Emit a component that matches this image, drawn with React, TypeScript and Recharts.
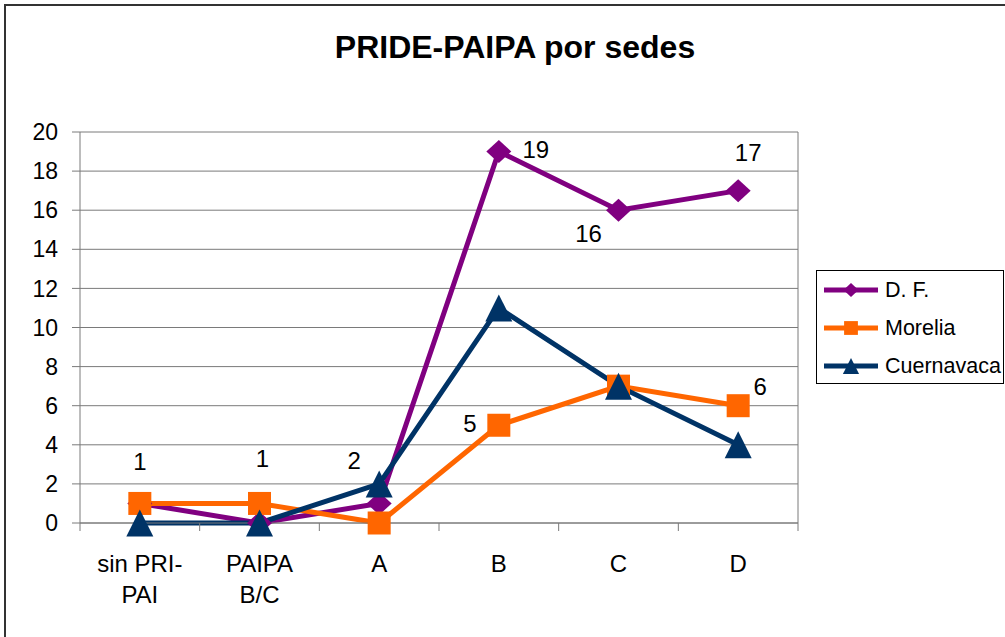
import React from "react";
import { LineChart, Line, XAxis, YAxis, CartesianGrid } from "recharts";

const categories = ["sin PRI-PAI", "PAIPA B/C", "A", "B", "C", "D"];
const categoryLines = [["sin PRI-", "PAI"], ["PAIPA", "B/C"], ["A"], ["B"], ["C"], ["D"]];
const dfValues = [1, 0, 1, 19, 16, 17];
const moreliaValues = [1, 1, 0, 5, 7, 6];
const cuernavacaValues = [0, 0, 2, 11, 7, 4];
const yTicks = [0, 2, 4, 6, 8, 10, 12, 14, 16, 18, 20];
const seriesNames = ["D. F.", "Morelia", "Cuernavaca"];
const seriesKeys = ["df", "morelia", "cuernavaca"];
const chartTitle = "PRIDE-PAIPA por sedes";

// which points carry a data label
const dfLabelShown = [false, false, false, true, true, true];
const moreliaLabelShown = [true, true, false, true, false, true];
const cuernavacaLabelShown = [false, false, true, false, false, false];

const data = categories.map((c, i) => ({
  cat: c,
  df: dfValues[i],
  morelia: moreliaValues[i],
  cuernavaca: cuernavacaValues[i],
}));

const FONT = "'Liberation Sans', Arial, Helvetica, sans-serif";
const COLORS: Record<string, string> = { df: "#800080", morelia: "#FF6600", cuernavaca: "#003366" };
const GRID = "#7a7a7a";

// label offsets (styling, relative to point)
const labelOffsets: Record<string, Record<number, [number, number]>> = {
  df: { 3: [37, -2], 4: [-30, 23], 5: [10, -38] },
  morelia: { 0: [0, -42], 1: [3, -45], 3: [-29, -2], 5: [22, -19] },
  cuernavaca: { 2: [-25, -23] },
};
const labelShown: Record<string, boolean[]> = {
  df: dfLabelShown,
  morelia: moreliaLabelShown,
  cuernavaca: cuernavacaLabelShown,
};

function Marker({ kind, cx, cy, color }: { kind: string; cx: number; cy: number; color: string }) {
  if (kind === "df") {
    const w = 12.5, h = 11.5;
    return <polygon points={`${cx},${cy - h} ${cx + w},${cy} ${cx},${cy + h} ${cx - w},${cy}`} fill={color} />;
  }
  if (kind === "morelia") {
    const s = 11.5;
    return <rect x={cx - s} y={cy - s} width={2 * s} height={2 * s} fill={color} />;
  }
  const w = 13.5, h = 13.5;
  return <polygon points={`${cx},${cy - h} ${cx + w},${cy + h} ${cx - w},${cy + h}`} fill={color} />;
}

function makeDot(kind: string) {
  return (props: any) => {
    const { cx, cy, index, payload } = props;
    const color = COLORS[kind];
    const shown = labelShown[kind][index];
    const off = labelOffsets[kind][index] || [0, 0];
    return (
      <g key={`dot-${kind}-${index}`}>
        <Marker kind={kind} cx={cx} cy={cy} color={color} />
        {shown ? (
          <text
            x={cx + off[0]}
            y={cy + off[1]}
            textAnchor="middle"
            dominantBaseline="central"
            fontFamily={FONT}
            fontSize={24}
            fill="#000"
          >
            {payload[kind]}
          </text>
        ) : null}
      </g>
    );
  };
}

function LegendBox() {
  return (
    <div
      style={{
        position: "absolute",
        left: 816,
        top: 270,
        border: "1px solid #000",
        width: 188,
        height: 114,
        boxSizing: "border-box",
        background: "#fff",
      }}
    >
      <svg width={188} height={114} style={{ position: "absolute", left: 0, top: 0 }}>
        {seriesNames.map((name, i) => {
          const cy = 19 + i * 38;
          const kind = seriesKeys[i];
          const color = COLORS[kind];
          return (
            <g key={name}>
              <line x1={7} x2={61} y1={cy} y2={cy} stroke={color} strokeWidth={5} />
              <g transform={`translate(${34},${cy}) scale(0.6) translate(${-34},${-cy})`}>
                <Marker kind={kind} cx={34} cy={cy} color={color} />
              </g>
              <text x={68} y={cy} dominantBaseline="central" fontFamily={FONT} fontSize={21.5} fill="#000">
                {name}
              </text>
            </g>
          );
        })}
      </svg>
    </div>
  );
}

function XTick(props: any) {
  const { x, y, payload, index } = props;
  const off = payload && payload.offset ? payload.offset : 60;
  const lines = categoryLines[index] || [String(payload.value)];
  return (
    <g>
      <line x1={x - off} x2={x - off} y1={y} y2={y + 8} stroke={GRID} strokeWidth={1} />
      {index === categories.length - 1 ? (
        <line x1={x + off} x2={x + off} y1={y} y2={y + 8} stroke={GRID} strokeWidth={1} />
      ) : null}
      {lines.map((l: string, i: number) => (
        <text key={i} x={x} y={y + 49 + i * 31} textAnchor="middle" fontFamily={FONT} fontSize={24} fill="#000">
          {l}
        </text>
      ))}
    </g>
  );
}

export default function App() {
  return (
    <div
      style={{
        position: "absolute",
        left: 0,
        top: 0,
        width: 1005,
        height: 637,
        overflow: "hidden",
        background: "#fff",
      }}
    >
      <div
        style={{
          position: "absolute",
          left: 4,
          top: 4,
          width: 1100,
          height: 700,
          border: "2px solid #333",
        }}
      />
      <svg width={1005} height={80} style={{ position: "absolute", left: 0, top: 0 }}>
        <text x={515} y={58} textAnchor="middle" fontFamily={FONT} fontWeight="bold" fontSize={32} fill="#000">
          {chartTitle}
        </text>
      </svg>
      <div style={{ position: "absolute", left: 0, top: 0 }}>
        <LineChart
          width={1005}
          height={637}
          data={data}
          margin={{ top: 132, left: 20, right: 207, bottom: 0 }}
        >
          <CartesianGrid
            stroke={GRID}
            strokeWidth={1}
            vertical={true}
            horizontal={true}
            verticalCoordinatesGenerator={(p: any) => [p.offset.left + p.offset.width]}
          />
          <XAxis
            dataKey="cat"
            type="category"
            scale="band"
            axisLine={{ stroke: GRID, strokeWidth: 1 }}
            tickLine={false}
            tickSize={0}
            tickMargin={0}
            interval={0}
            tick={<XTick />}
            height={114}
          />
          <YAxis
            type="number"
            domain={[0, 20]}
            ticks={yTicks}
            interval={0}
            width={60}
            axisLine={{ stroke: GRID, strokeWidth: 1 }}
            tickLine={{ stroke: GRID, strokeWidth: 1 }}
            tickSize={8}
            tickMargin={14}
            tick={{ fill: "#000", fontSize: 23, fontFamily: FONT }}
          />
          {seriesKeys.map((k, i) => (
            <Line
              key={k}
              name={seriesNames[i]}
              dataKey={k}
              stroke={COLORS[k]}
              strokeWidth={5}
              dot={makeDot(k)}
              activeDot={false}
              isAnimationActive={false}
            />
          ))}
        </LineChart>
      </div>
      <LegendBox />
    </div>
  );
}
